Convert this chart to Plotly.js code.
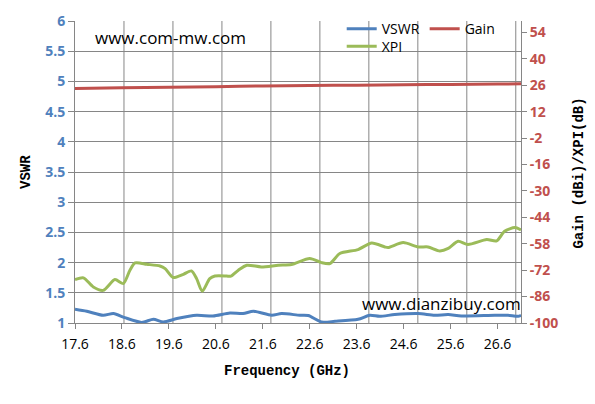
<!DOCTYPE html>
<html>
<head>
<meta charset="utf-8">
<script src="https://cdn.plot.ly/plotly-3.0.1.min.js"></script>
<style>html,body{margin:0;padding:0;background:#fff;}#chart{width:595px;height:404px;}</style>
</head>
<body>
<div id="chart"></div>
<script>
// ---- data ----
var freqVSWR = [17.60,17.85,18.20,18.42,18.66,19.02,19.27,19.48,19.77,20.19,20.54,20.90,21.18,21.40,21.79,22.00,22.39,22.57,22.85,23.14,23.63,23.88,24.09,24.41,24.91,25.26,25.55,25.83,26.54,26.82,27.04,27.10];
var vswr     = [1.227,1.194,1.128,1.156,1.089,1.010,1.061,1.017,1.073,1.128,1.116,1.166,1.156,1.194,1.128,1.156,1.128,1.123,1.017,1.028,1.061,1.128,1.111,1.139,1.156,1.128,1.139,1.116,1.128,1.128,1.111,1.128];

var freqXPI = [17.60,17.78,17.99,18.20,18.45,18.63,18.77,18.88,19.13,19.41,19.52,19.69,19.91,20.08,20.19,20.31,20.47,20.58,20.83,20.92,21.08,21.26,21.57,21.93,22.21,22.60,22.85,23.03,23.24,23.63,23.92,24.20,24.27,24.59,24.91,25.12,25.37,25.55,25.76,25.97,26.37,26.58,26.75,26.97,27.10];
var xpi     = [-77.0,-76.1,-80.9,-82.7,-77.0,-79.1,-72.0,-68.2,-68.9,-69.8,-71.2,-75.9,-74.2,-72.4,-76.5,-83.2,-76.5,-75.1,-75.1,-75.2,-72.0,-69.4,-70.3,-69.4,-69.0,-65.8,-68.0,-68.5,-63.2,-61.1,-57.6,-59.7,-60.0,-57.4,-59.7,-59.7,-61.8,-60.5,-56.7,-58.4,-55.8,-56.5,-51.4,-49.4,-50.7];

var freqGain = [17.6,18.6,19.6,20.6,21.6,22.6,23.6,24.6,25.6,26.6,27.1];
var gain     = [24.3,24.6,24.9,25.2,25.6,25.8,26.0,26.2,26.4,26.6,26.7];

var xTickLabels = ['17.6','18.6','19.6','20.6','21.6','22.6','23.6','24.6','25.6','26.6'];
var xTickVals = xTickLabels.map(Number);
var rightTickVals = [-100,-86,-72,-58,-44,-30,-16,-2,12,26,40,54];
var rightTickText = rightTickVals.map(function(v){return String(v);});

var yMin = 1, yMax = 6;

var grid = '#868686';
var blue = '#4F81BD', red = '#C0504D', green = '#9BBB59';
var tickFont = 'Open Sans, Liberation Sans, sans-serif';
var titleFont = 'Liberation Mono, DejaVu Sans Mono, monospace';

// vertical gridlines in the reference are spaced a little wider than the tick labels
var gridStep = 1.0432;
var gridShapes = [];
xTickVals.forEach(function(v, i){
  if (i === 0) return;               // the first one is the y axis line
  var g = xTickVals[0] + i * gridStep;
  gridShapes.push({type: 'line', xref: 'x', yref: 'paper', x0: g, x1: g, y0: 0, y1: 1,
                   layer: 'below', line: {color: grid, width: 1}});
});

var traces = [
  {x: freqVSWR, y: vswr, name: 'VSWR', type: 'scatter', mode: 'lines',
   line: {color: blue, width: 3, shape: 'spline', smoothing: 0.7}, xaxis: 'x', yaxis: 'y', legend: 'legend'},
  {x: freqGain, y: gain, name: 'Gain', type: 'scatter', mode: 'lines',
   line: {color: red, width: 3, shape: 'spline', smoothing: 0.7}, xaxis: 'x2', yaxis: 'y2', legend: 'legend'},
  {x: freqXPI, y: xpi, name: 'XPI', type: 'scatter', mode: 'lines',
   line: {color: green, width: 3, shape: 'spline', smoothing: 0.7}, xaxis: 'x2', yaxis: 'y2', legend: 'legend2'}
];

var layout = {
  width: 595, height: 404,
  margin: {l: 75, r: 74, t: 21, b: 81, pad: 0},
  paper_bgcolor: '#ffffff', plot_bgcolor: '#ffffff',
  showlegend: true,
  shapes: gridShapes,
  xaxis: {
    range: [17.6, 27.1], showgrid: false, zeroline: false,
    showline: true, linecolor: grid, linewidth: 1,
    ticks: '', showticklabels: false
  },
  xaxis2: {
    overlaying: 'x', side: 'bottom', anchor: 'y', range: [17.6, 27.1],
    tickmode: 'array', tickvals: xTickVals, ticktext: xTickLabels,
    showgrid: false, zeroline: false, showline: false,
    ticks: 'outside', ticklen: 5, tickcolor: grid, tickwidth: 1, ticklabelstandoff: 3,
    tickfont: {family: tickFont, size: 14, color: '#000000'}
  },
  yaxis: {
    range: [yMin, yMax], tick0: 1, dtick: 0.5,
    showgrid: true, gridcolor: grid, gridwidth: 1, zeroline: false,
    showline: true, linecolor: grid, linewidth: 1,
    ticks: 'outside', ticklen: 6, tickcolor: grid,
    tickfont: {family: tickFont, size: 14, color: blue, weight: 'bold'}
  },
  yaxis2: {
    overlaying: 'y', side: 'right', range: [-100, 60],
    tickmode: 'array', tickvals: rightTickVals, ticktext: rightTickText,
    showgrid: false, zeroline: false, showline: true, linecolor: grid, linewidth: 1,
    ticks: 'outside', ticklen: 5, tickcolor: grid,
    tickfont: {family: tickFont, size: 14, color: red, weight: 'bold'}
  },
  legend: {
    orientation: 'h', x: 0.598, xanchor: 'left', y: 1.026, yanchor: 'top',
    bgcolor: 'rgba(0,0,0,0)', borderwidth: 0, tracegroupgap: 0,
    font: {family: tickFont, size: 14, color: '#000000'}
  },
  legend2: {
    orientation: 'h', x: 0.598, xanchor: 'left', y: 0.968, yanchor: 'top',
    bgcolor: 'rgba(0,0,0,0)', borderwidth: 0,
    font: {family: tickFont, size: 14, color: '#000000'}
  },
  annotations: [
    {text: 'www.com-mw.com', xref: 'paper', yref: 'paper', x: 0.040, y: 0.947,
     xanchor: 'left', yanchor: 'middle', showarrow: false,
     font: {family: tickFont, size: 17, color: '#000000'}},
    {text: 'www.dianzibuy.com', xref: 'paper', yref: 'paper', x: 1.0045, y: 0.063,
     xanchor: 'right', yanchor: 'middle', showarrow: false,
     font: {family: tickFont, size: 17, color: '#000000'}},
    {text: 'Frequency (GHz)', xref: 'paper', yref: 'paper', x: 0.4747, y: -0.158,
     xanchor: 'center', yanchor: 'middle', showarrow: false,
     font: {family: titleFont, size: 14, color: '#000000', weight: 'bold'}},
    {text: 'VSWR', xref: 'paper', yref: 'paper', x: -0.110, y: 0.5,
     xanchor: 'center', yanchor: 'middle', showarrow: false, textangle: -90,
     font: {family: titleFont, size: 14, color: '#000000', weight: 'bold'}},
    {text: 'Gain (dBi)/XPI(dB)', xref: 'paper', yref: 'paper', x: 1.130, y: 0.498,
     xanchor: 'center', yanchor: 'middle', showarrow: false, textangle: -90,
     font: {family: titleFont, size: 14, color: '#000000', weight: 'bold'}}
  ]
};

Plotly.newPlot('chart', traces, layout, {displayModeBar: false, staticPlot: true});
</script>
</body>
</html>
